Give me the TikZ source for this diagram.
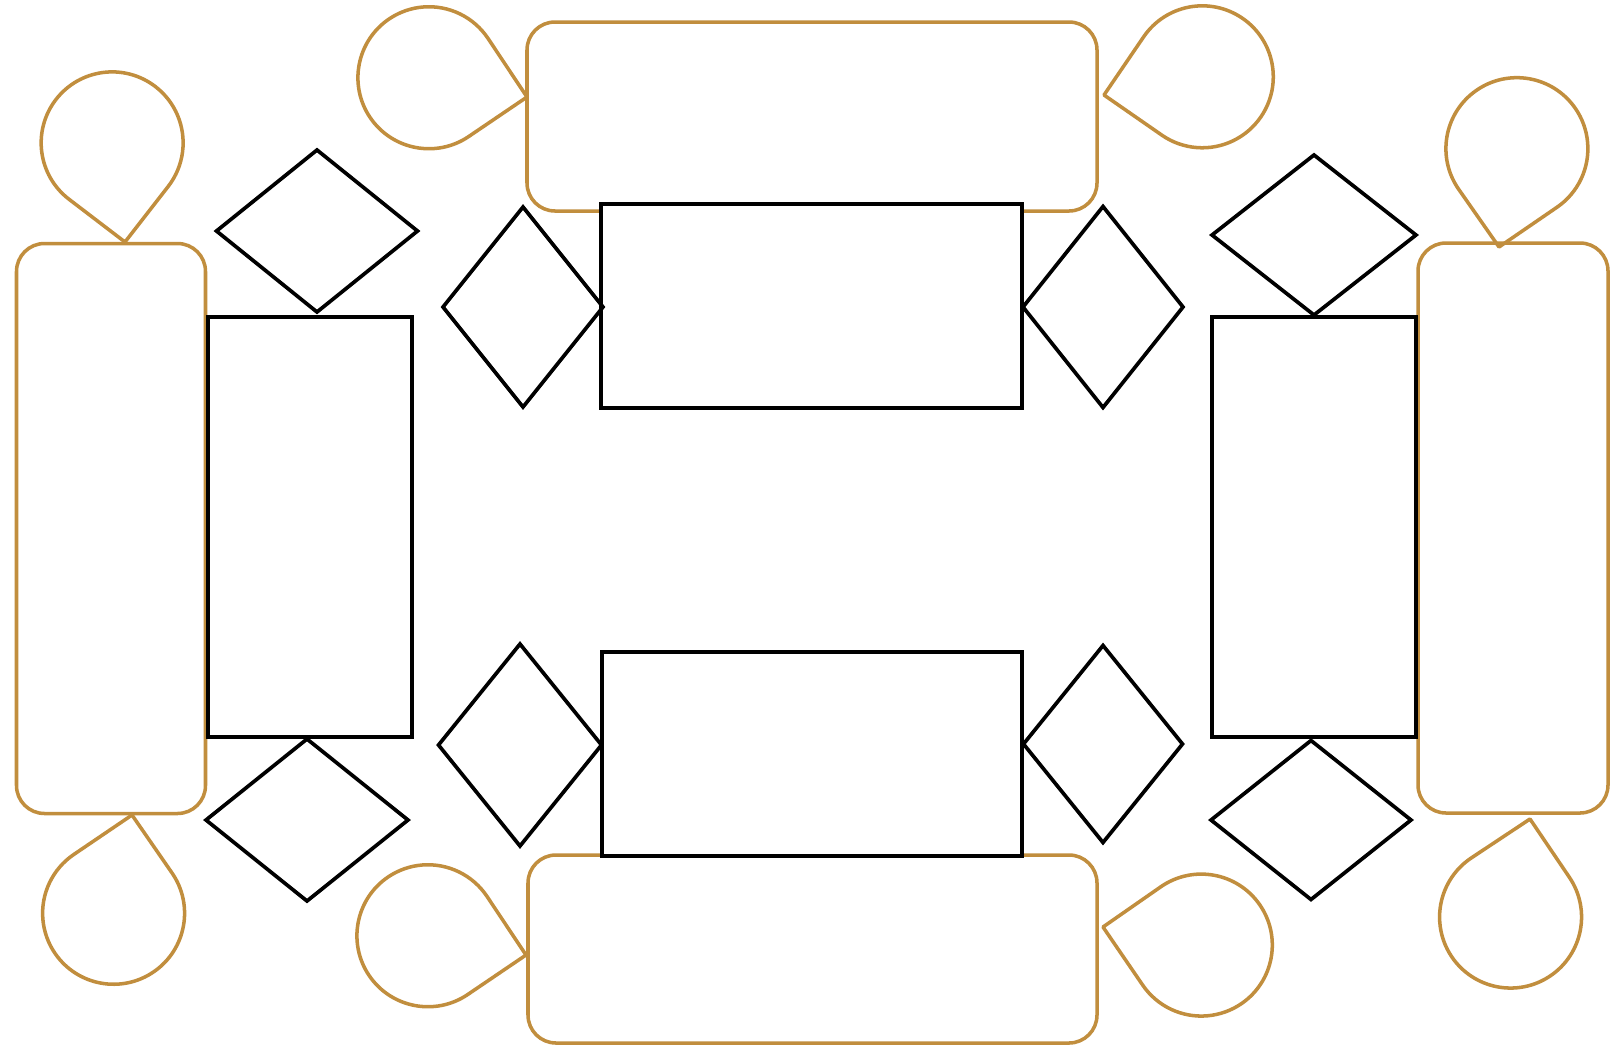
\documentclass[tikz,border=0pt]{standalone}
\usetikzlibrary{shapes.geometric}
\definecolor{gold}{RGB}{193,142,62}
\newcommand\mydrop[3]{\draw[goldline] (#1,#2) -- ++({#3+45.23}:1.408cm) arc[start angle={#3+135.23}, end angle={#3-135.23}, radius=1.42cm] -- cycle;}
\begin{document}
\begin{tikzpicture}[x=0.02cm,y=0.02cm,
  goldline/.style={draw=gold,line width=2pt,line join=round},
  goldbox/.style={goldline,rectangle,rounded corners=0.56cm,inner sep=0,outer sep=0},
  blackbox/.style={draw=black,fill=white,line width=2.3pt,rectangle,inner sep=0,outer sep=0},
  dia/.style={draw=black,line width=2.1pt,diamond,inner sep=0,outer sep=0,line join=miter},
  sz/.style 2 args={minimum width=#1*0.02cm,minimum height=#2*0.02cm}]
\useasboundingbox[fill=white] (0,0) rectangle (1620,-1046);
% gold rounded boxes
\node[goldbox,sz={570}{189}] (gtop) at (812,-116.5) {};
\node[goldbox,sz={569}{188}] (gbot) at (812.5,-949) {};
\node[goldbox,sz={189}{570}] (gleft) at (111,-528.5) {};
\node[goldbox,sz={190}{570}] (gright) at (1513,-528) {};
% teardrops
\mydrop{527}{-97}{168.9}
\mydrop{1104}{-95}{10.5}
\mydrop{125}{-242}{97.4}
\mydrop{1499}{-247}{79.7}
\mydrop{132}{-815}{-100.6}
\mydrop{1530}{-819}{-101.2}
\mydrop{526}{-955}{168.9}
\mydrop{1103}{-927}{-10.4}
% black rectangles
\node[blackbox,sz={421}{204}] (btop) at (811.5,-306) {};
\node[blackbox,sz={420}{204}] (bbot) at (812,-754) {};
\node[blackbox,sz={204}{420}] (bleft) at (310,-527) {};
\node[blackbox,sz={204}{420}] (bright) at (1314,-527) {};
% diamonds
\node[dia,sz={201}{162}] (d1) at (317,-231) {};
\node[dia,sz={160}{200}] (d2) at (523,-307) {};
\node[dia,sz={160}{201}] (d3) at (1103,-307) {};
\node[dia,sz={204}{160}] (d4) at (1314,-235) {};
\node[dia,sz={163}{202}] (d5) at (520,-745) {};
\node[dia,sz={159}{197}] (d6) at (1103,-744) {};
\node[dia,sz={202}{162}] (d7) at (307,-820) {};
\node[dia,sz={200}{159}] (d8) at (1311,-820) {};
\end{tikzpicture}
\end{document}
